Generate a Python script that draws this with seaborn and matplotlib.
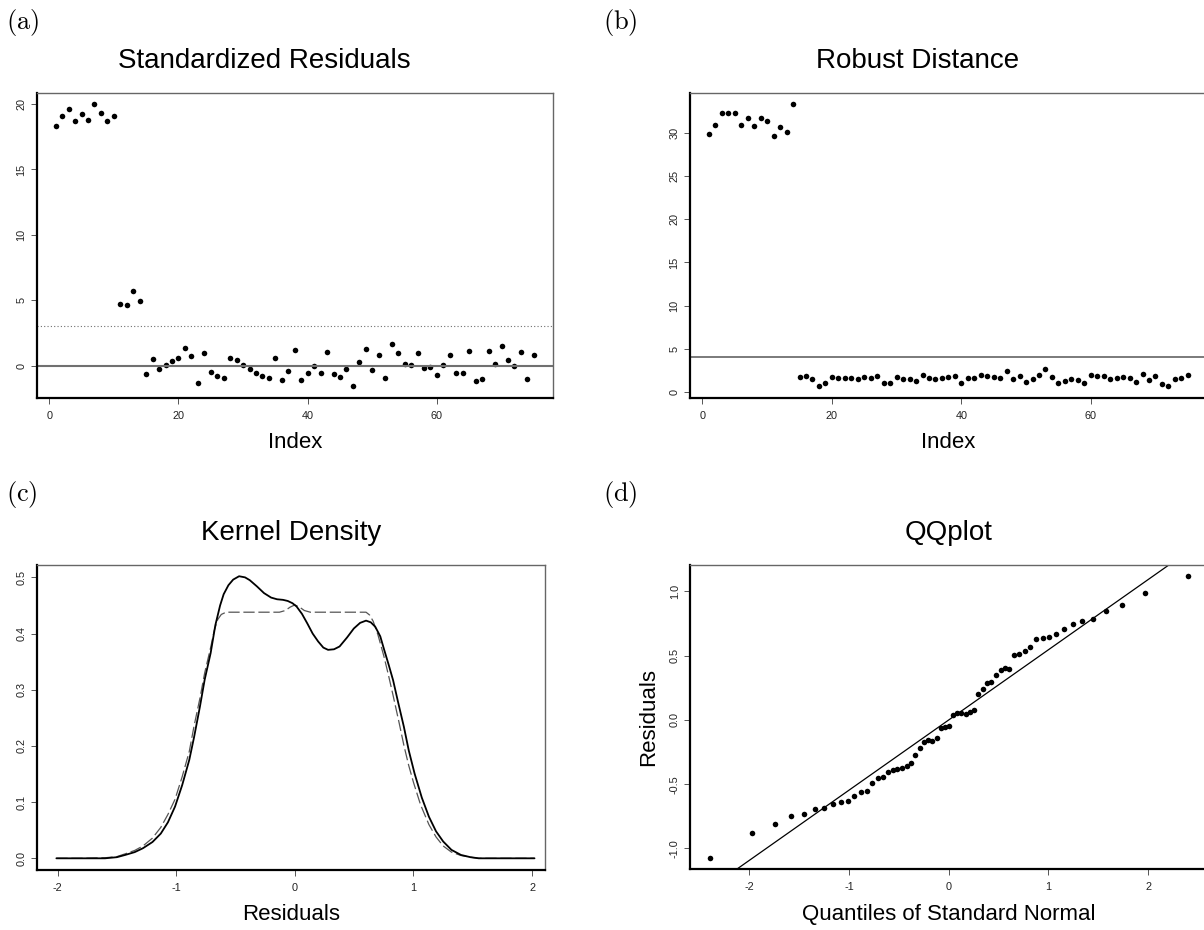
import matplotlib
matplotlib.use("Agg")
import matplotlib.pyplot as plt
import seaborn as sns
import pandas as pd

# (a) standardized residuals, (b) robust distances, index 1..75
index = list(range(1, 76))
std_resid = [18.29, 19.08, 19.62, 18.67, 19.21, 18.78, 20.00, 19.31, 18.70, 19.08,
             4.72, 4.67, 5.74, 4.92, -0.66, 0.51, -0.23, 0.08, 0.36, 0.59,
             1.33, 0.74, -1.30, 0.97, -0.48, -0.82, -0.94, 0.61, 0.46, 0.05,
             -0.23, -0.59, -0.82, -0.94, 0.61, -1.10, -0.41, 1.17, -1.07, -0.56,
             -0.05, -0.54, 1.07, -0.66, -0.87, -0.26, -1.58, 0.31, 1.28, -0.33,
             0.79, -0.94, 1.68, 0.94, 0.10, 0.08, 0.94, -0.20, -0.08, -0.74,
             0.08, 0.84, -0.54, -0.56, 1.15, -1.20, -1.02, 1.12, 0.10, 1.48,
             0.43, -0.05, 1.02, -0.99, 0.79]
robust_dist = [29.89, 30.85, 32.24, 32.28, 32.24, 30.89, 31.74, 30.74, 31.74, 31.32,
               29.62, 30.66, 30.04, 33.32, 1.74, 1.85, 1.54, 0.66, 1.08, 1.74,
               1.58, 1.58, 1.62, 1.47, 1.70, 1.58, 1.85, 1.08, 1.04, 1.74,
               1.47, 1.50, 1.31, 1.93, 1.62, 1.47, 1.66, 1.70, 1.85, 1.00,
               1.66, 1.66, 2.01, 1.81, 1.77, 1.58, 2.47, 1.54, 1.81, 1.20,
               1.50, 1.97, 2.70, 1.77, 1.08, 1.31, 1.47, 1.43, 1.04, 1.93,
               1.85, 1.81, 1.54, 1.58, 1.74, 1.66, 1.12, 2.08, 1.43, 1.85,
               0.93, 0.73, 1.50, 1.62, 1.93]
resid_cutoff = 3.0
dist_cutoff = 4.09

# (c) kernel density of residuals (solid) and reference density (dashed)
kd_x = [-2.01, -1.80, -1.60, -1.50, -1.43, -1.35, -1.28, -1.20, -1.13, -1.07,
        -1.01, -0.95, -0.89, -0.85, -0.80, -0.76, -0.71, -0.67, -0.63, -0.60,
        -0.56, -0.52, -0.47, -0.42, -0.38, -0.32, -0.26, -0.20, -0.15, -0.10,
        -0.06, -0.02, 0.015, 0.06, 0.105, 0.15, 0.196, 0.24, 0.28, 0.33,
        0.377, 0.44, 0.497, 0.55, 0.60, 0.64, 0.678, 0.72, 0.753, 0.79,
        0.828, 0.87, 0.919, 0.96, 1.009, 1.07, 1.13, 1.19, 1.25, 1.32,
        1.40, 1.48, 1.55, 1.80, 2.02]
kd_y = [0.0, 0.0, 0.0, 0.002, 0.006, 0.011, 0.018, 0.029, 0.044, 0.064,
        0.092, 0.130, 0.175, 0.215, 0.270, 0.318, 0.365, 0.415, 0.450, 0.470,
        0.486, 0.496, 0.502, 0.500, 0.495, 0.484, 0.472, 0.464, 0.461, 0.460,
        0.458, 0.454, 0.448, 0.435, 0.418, 0.400, 0.386, 0.375, 0.371, 0.372,
        0.377, 0.393, 0.409, 0.419, 0.423, 0.420, 0.412, 0.395, 0.371, 0.345,
        0.317, 0.278, 0.234, 0.192, 0.151, 0.108, 0.074, 0.048, 0.030, 0.015,
        0.006, 0.002, 0.0, 0.0, 0.0]
ref_x = [-2.01, -1.80, -1.60, -1.50, -1.43, -1.35, -1.28, -1.20, -1.13, -1.07,
         -1.01, -0.95, -0.89, -0.85, -0.80, -0.76, -0.71, -0.68, -0.65, -0.62,
         -0.58, -0.13, -0.08, -0.04, 0.0, 0.04, 0.08, 0.13, 0.60, 0.63,
         0.66, 0.70, 0.75, 0.79, 0.83, 0.88, 0.92, 0.96, 1.00, 1.06,
         1.13, 1.19, 1.25, 1.32, 1.40, 1.48, 1.55, 1.80, 2.02]
ref_y = [0.0, 0.0, 0.001, 0.003, 0.008, 0.014, 0.022, 0.036, 0.055, 0.078,
         0.105, 0.145, 0.190, 0.235, 0.285, 0.330, 0.375, 0.405, 0.425, 0.434,
         0.438, 0.438, 0.441, 0.447, 0.451, 0.447, 0.441, 0.438, 0.438, 0.433,
         0.422, 0.398, 0.360, 0.325, 0.288, 0.240, 0.200, 0.165, 0.135, 0.095,
         0.060, 0.038, 0.022, 0.011, 0.005, 0.002, 0.0, 0.0, 0.0]

# (d) normal QQ plot of the 61 clean residuals
qq_theory = [-2.40, -1.97, -1.74, -1.58, -1.45, -1.34, -1.25, -1.16, -1.08, -1.01,
             -0.95, -0.88, -0.82, -0.77, -0.71, -0.66, -0.61, -0.56, -0.52, -0.47,
             -0.42, -0.38, -0.34, -0.29, -0.25, -0.21, -0.17, -0.12, -0.08, -0.04,
             0.0, 0.04, 0.08, 0.12, 0.17, 0.21, 0.25, 0.29, 0.34, 0.38,
             0.42, 0.47, 0.52, 0.56, 0.61, 0.66, 0.71, 0.77, 0.82, 0.88,
             0.95, 1.01, 1.08, 1.16, 1.25, 1.34, 1.45, 1.58, 1.74, 1.97, 2.40]
qq_resid = [-1.074, -0.882, -0.810, -0.750, -0.732, -0.693, -0.683, -0.652, -0.642, -0.631,
            -0.590, -0.561, -0.551, -0.492, -0.450, -0.442, -0.401, -0.391, -0.383, -0.373,
            -0.362, -0.331, -0.272, -0.220, -0.168, -0.158, -0.160, -0.140, -0.062, -0.054,
            -0.044, 0.036, 0.052, 0.054, 0.049, 0.060, 0.080, 0.199, 0.238, 0.290,
            0.298, 0.349, 0.388, 0.401, 0.398, 0.507, 0.517, 0.538, 0.569, 0.629,
            0.636, 0.649, 0.670, 0.709, 0.748, 0.768, 0.789, 0.851, 0.898, 0.988, 1.118]
qq_intercept = 0.0
qq_slope = 0.546

sns.set_theme(style="ticks")
plt.rcParams['font.family'] = ['Liberation Sans', 'DejaVu Sans']
plt.rcParams['mathtext.fontset'] = 'cm'
plt.rcParams['axes.unicode_minus'] = False
plt.rcParams['text.color'] = 'black'
plt.rcParams['axes.labelcolor'] = 'black'

W, H = 1204, 930
fig = plt.figure(figsize=(W / 100, H / 100), dpi=100)


def make_axes(left, right, top, bottom):
    return fig.add_axes([left / W, 1 - bottom / H, (right - left) / W, (bottom - top) / H])


def r_style(ax, xticks, yticks, yfmt=None):
    # R-like box: dark left/bottom axes, grey frame on top/right
    for side in ['left', 'bottom']:
        ax.spines[side].set_color('black')
        ax.spines[side].set_linewidth(1.6)
    for side in ['top', 'right']:
        ax.spines[side].set_visible(True)
        ax.spines[side].set_color('#666666')
        ax.spines[side].set_linewidth(1.0)
    ax.set_xticks(xticks)
    ax.set_yticks(yticks)
    if yfmt:
        ax.set_yticklabels([yfmt.format(v) for v in yticks])
    ax.tick_params(axis='both', length=4.5, width=0.7, color='#555555',
                   labelsize=7.8, labelcolor='#222222')
    ax.tick_params(axis='x', pad=5)
    ax.tick_params(axis='y', pad=3, labelrotation=90)
    for lbl in ax.get_yticklabels():
        lbl.set_va('center')


# (a)
ax = make_axes(36.6, 553, 92.7, 397.7)
sns.scatterplot(x=index, y=std_resid, ax=ax, color='black', s=16, linewidth=0)
ax.axhline(0, color='#707070', lw=1.5)
ax.axhline(resid_cutoff, color='#707070', lw=0.8, ls=(0, (1, 2)))
ax.set_xlim(-1.96, 77.96)
ax.set_ylim(-2.44, 20.86)
r_style(ax, [0, 20, 40, 60], [0, 5, 10, 15, 20])
ax.set_xlabel('Index', fontsize=16, labelpad=8)
ax.set_ylabel('')
ax.set_title('Standardized Residuals', fontsize=20, pad=18, color='black', x=0.44)

# (b)
ax = make_axes(689.8, 1207, 92.7, 397.7)
sns.scatterplot(x=index, y=robust_dist, ax=ax, color='black', s=16, linewidth=0)
ax.axhline(dist_cutoff, color='#707070', lw=1.3)
ax.set_xlim(-1.96, 77.96)
ax.set_ylim(-0.65, 34.63)
r_style(ax, [0, 20, 40, 60], [0, 5, 10, 15, 20, 25, 30])
ax.set_xlabel('Index', fontsize=16, labelpad=8)
ax.set_ylabel('')
ax.set_title('Robust Distance', fontsize=20, pad=18, color='black', x=0.44)

# (c)
ax = make_axes(36.8, 544.6, 565, 870)
kd = pd.DataFrame({'x': kd_x, 'y': kd_y})
ref = pd.DataFrame({'x': ref_x, 'y': ref_y})
sns.lineplot(data=ref, x='x', y='y', ax=ax, color='#555555', lw=0.9,
             dashes=False, estimator=None, sort=False).lines[-1].set_dashes([9, 3])
sns.lineplot(data=kd, x='x', y='y', ax=ax, color='black', lw=1.3,
             estimator=None, sort=False)
ax.set_xlim(-2.175, 2.105)
ax.set_ylim(-0.0208, 0.522)
r_style(ax, [-2, -1, 0, 1, 2], [0.0, 0.1, 0.2, 0.3, 0.4, 0.5], '{:.1f}')
ax.set_xlabel('Residuals', fontsize=16, labelpad=8)
ax.set_ylabel('')
ax.set_title('Kernel Density', fontsize=20, pad=18, color='black')

# (d)
ax = make_axes(690.4, 1207, 565, 869.3)
sns.scatterplot(x=qq_theory, y=qq_resid, ax=ax, color='black', s=16, linewidth=0)
ax.axline((0, qq_intercept), slope=qq_slope, color='black', lw=0.9)
ax.set_xlim(-2.592, 2.592)
ax.set_ylim(-1.162, 1.206)
r_style(ax, [-2, -1, 0, 1, 2], [-1.0, -0.5, 0.0, 0.5, 1.0], '{:.1f}')
ax.set_xlabel('Quantiles of Standard Normal', fontsize=16, labelpad=8)
ax.set_ylabel('Residuals', fontsize=16, labelpad=8)
ax.set_title('QQplot', fontsize=20, pad=18, color='black')

# panel letters
for lab, x, y in [('a', 6, 22), ('b', 603, 22), ('c', 6, 494), ('d', 603, 494)]:
    fig.text(x / W, 1 - y / H, r'$(\mathrm{%s})$' % lab, fontsize=19,
             ha='left', va='center')

fig.savefig('out.png', dpi=100)
